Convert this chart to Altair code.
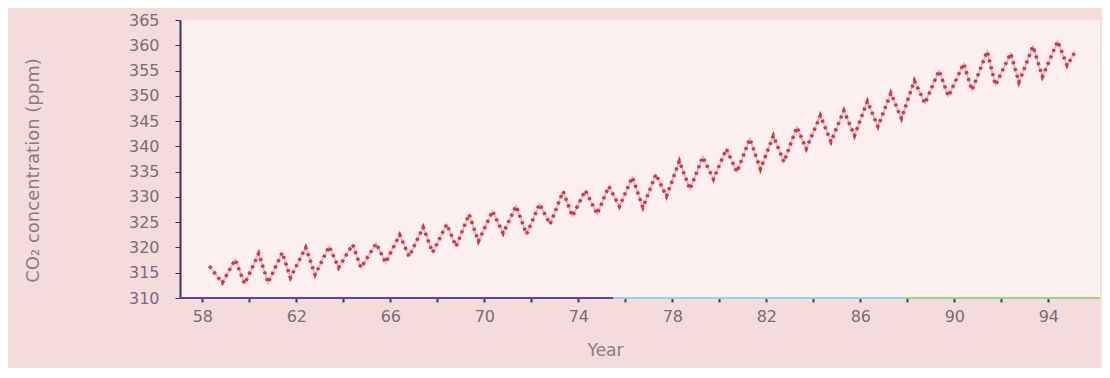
import altair as alt
import pandas as pd

# Seasonal maxima (around May)
peak_years = [58.3, 59.4, 60.4, 61.4, 62.4, 63.4, 64.4, 65.4, 66.4, 67.4, 68.4,
              69.35, 70.35, 71.35, 72.35, 73.35, 74.3, 75.3, 76.3, 77.3, 78.3,
              79.3, 80.3, 81.3, 82.3, 83.3, 84.3, 85.3, 86.3, 87.3, 88.3,
              89.35, 90.4, 91.4, 92.4, 93.35, 94.4]
peak_vals = [316.3, 317.6, 318.8, 319.0, 320.0, 320.2, 320.6, 320.8, 322.5, 324.0, 324.6,
             326.6, 327.2, 328.2, 328.6, 331.1, 331.3, 332.1, 333.9, 334.5, 337.1,
             337.9, 339.5, 341.5, 342.1, 343.8, 346.1, 347.1, 348.9, 350.5, 353.0,
             355.0, 356.4, 358.8, 358.4, 359.8, 360.8]

# Seasonal minima (around October)
trough_years = [58.85, 59.8, 60.8, 61.75, 62.8, 63.8, 64.75, 65.8, 66.8, 67.8, 68.8,
                69.75, 70.8, 71.8, 72.8, 73.75, 74.8, 75.75, 76.75, 77.75, 78.75,
                79.75, 80.75, 81.75, 82.75, 83.7, 84.75, 85.75, 86.75, 87.75, 88.75,
                89.75, 90.75, 91.75, 92.75, 93.75, 94.8, 95.15]
trough_vals = [313.0, 312.8, 313.0, 314.0, 314.6, 316.0, 316.0, 317.0, 318.2, 319.0, 320.2,
               321.2, 322.8, 322.6, 324.6, 326.2, 326.6, 328.1, 327.9, 330.1, 331.5,
               333.5, 334.9, 335.5, 336.9, 339.5, 340.9, 342.1, 343.9, 345.5, 348.5,
               349.9, 351.1, 352.1, 352.7, 353.8, 356.0, 358.8]

x_ticks = [58, 60, 62, 64, 66, 68, 70, 72, 74, 76, 78, 80, 82, 84, 86, 88, 90, 92, 94]
y_ticks = [310, 315, 320, 325, 330, 335, 340, 345, 350, 355, 360, 365]

# x-axis baseline segments (colour changes along the axis)
seg_start = [57.05, 75.5, 87.9]
seg_end = [75.5, 87.9, 96.2]
seg_color = ["#5546a8", "#8fd8ec", "#98d48a"]

X_DOMAIN = [57.05, 96.2]
Y_DOMAIN = [310, 365]

df = pd.DataFrame({"year": peak_years + trough_years,
                   "co2": peak_vals + trough_vals}).sort_values("year")
seg = pd.DataFrame({"year": seg_start, "year2": seg_end, "c": seg_color,
                    "co2": [Y_DOMAIN[0]] * len(seg_start)})

label_color = "#7d6a78"

x_enc = alt.X("year:Q", scale=alt.Scale(domain=X_DOMAIN, nice=False, zero=False),
              axis=alt.Axis(values=x_ticks, title="Year",
                            labelExpr="(datum.value - 58) % 4 == 0 ? datum.value : ''",
                            domain=False, tickSize=4, tickColor="#3d3a70", tickWidth=2,
                            labelPadding=6, labelFontSize=16, labelColor=label_color,
                            labelFont="DejaVu Sans", titleFont="DejaVu Sans",
                            titleFontSize=17, titleFontWeight="normal", titleColor="#8a7a82",
                            titleX=425, titleY=52, titleBaseline="middle", grid=False))
y_enc = alt.Y("co2:Q", scale=alt.Scale(domain=Y_DOMAIN, nice=False, zero=False),
              axis=alt.Axis(values=y_ticks, title="CO₂ concentration (ppm)",
                            labelOverlap=False, tickCount=12,
                            domainColor="#3d2d55", domainWidth=2, tickColor="#3d2d55",
                            tickSize=5, labelPadding=16, labelFontSize=16,
                            labelColor=label_color, labelFont="DejaVu Sans",
                            titleFont="DejaVu Sans", titleFontSize=18,
                            titleFontWeight="normal", titleColor="#8a7a82",
                            titleX=-138, titleY=150, titleBaseline="bottom", grid=False))

base_line = alt.Chart(df).mark_line(color="#f2a6ae", strokeWidth=1.5).encode(x=x_enc, y=y_enc)
dash_line = alt.Chart(df).mark_line(color="#c93a4c", strokeWidth=3.5,
                                    strokeDash=[3, 4]).encode(x=x_enc, y=y_enc)
axis_rule = alt.Chart(seg).mark_rule(strokeWidth=2).encode(
    x=x_enc, x2=alt.X2("year2:Q"), y=y_enc, color=alt.Color("c:N", scale=None))

chart = alt.layer(base_line, dash_line, axis_rule).properties(
    width=920, height=278,
    autosize=alt.AutoSizeParams(type="none"),
    padding={"left": 172, "top": 12, "right": 2, "bottom": 70},
    background="#f4dcdc",
).configure_view(fill="#fbefef", stroke=None)

chart.save("out.html", embed_options={"renderer": "svg", "actions": False})
